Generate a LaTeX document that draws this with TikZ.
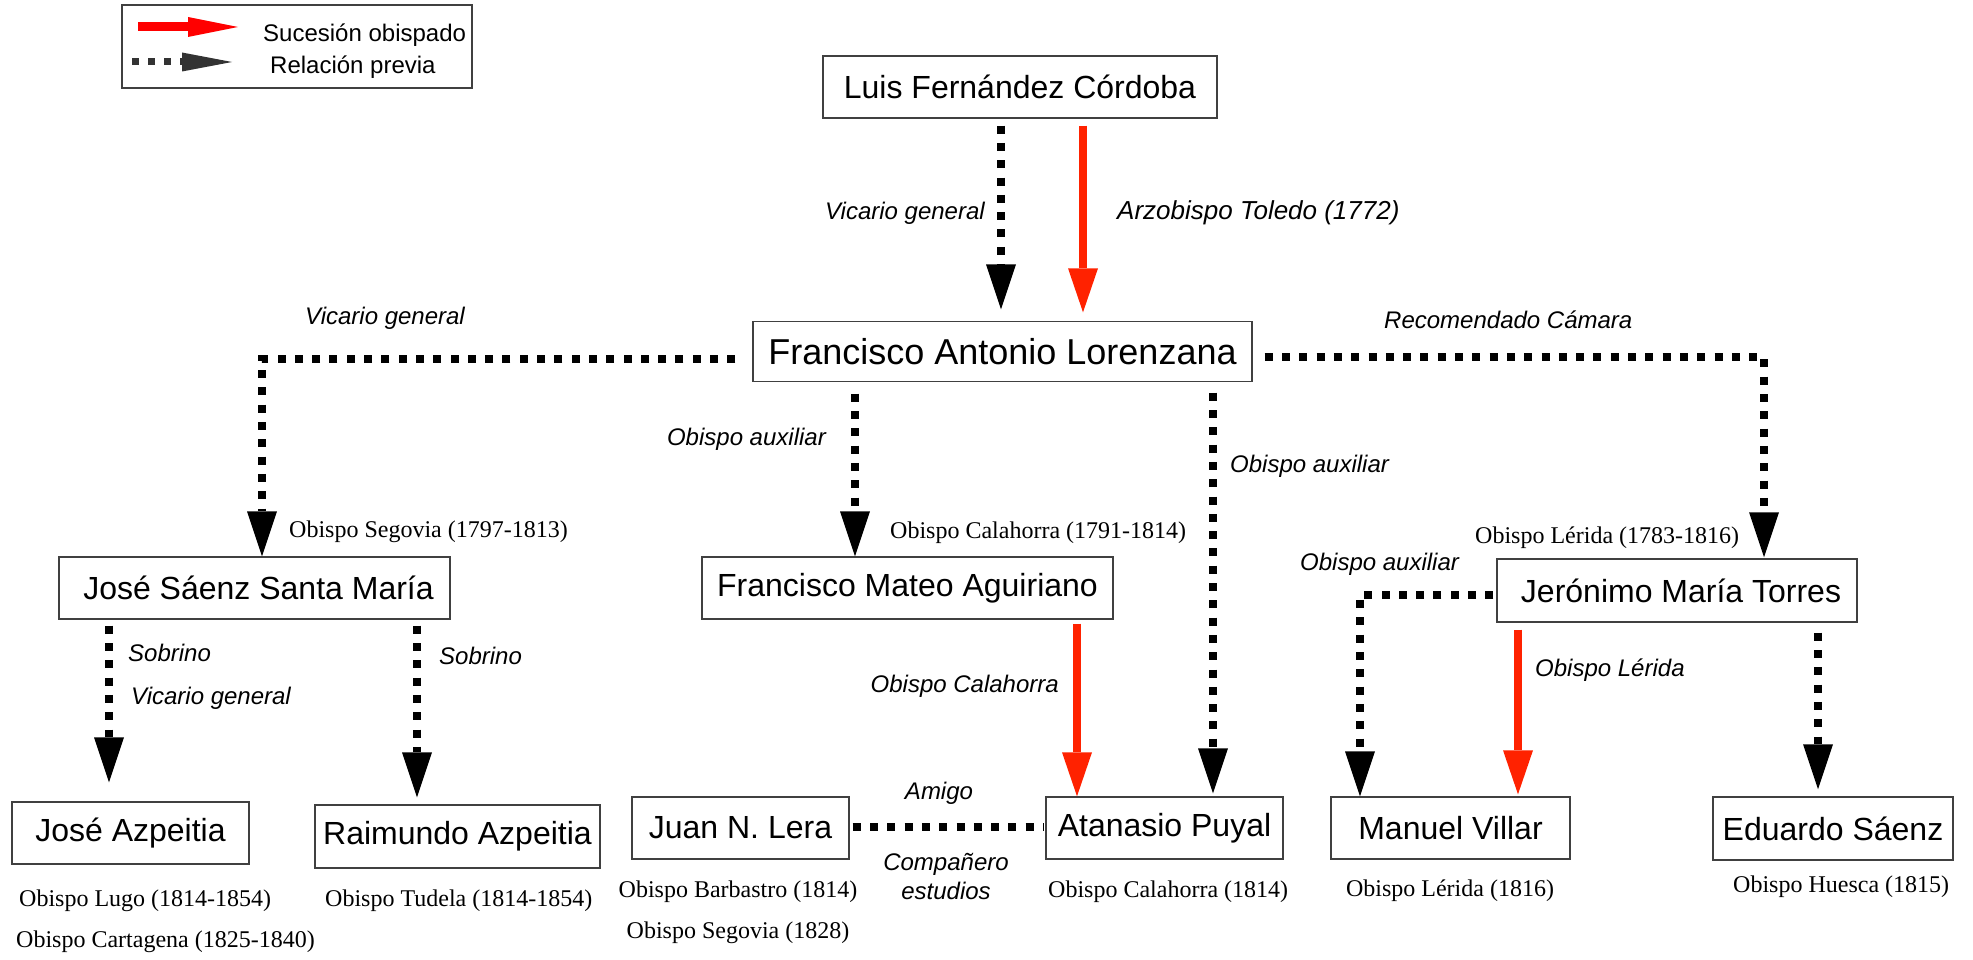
\documentclass[tikz,border=0pt]{standalone}
\usepackage{fontspec}
\setmainfont{Liberation Sans}
\newfontfamily\timesfont{Liberation Serif}
\usetikzlibrary{arrows.meta,calc}
\definecolor{sred}{RGB}{255,34,0}
\definecolor{lgray}{RGB}{51,51,51}
\begin{document}
\begin{tikzpicture}[x=1pt,y=-1pt,
  box/.style={draw=black!75, line width=1.4pt, minimum height=62pt, inner sep=0pt, font=\fontsize{32}{36}\selectfont},
  prevline/.style={line width=7.5pt, dash pattern=on 8pt off 9.3pt},
  prev/.style={prevline, -{Triangle[length=45pt,width=30pt,line width=0pt]}},
  succ/.style={draw=sred, line width=7.7pt, -{Triangle[length=44pt,width=30pt,line width=0pt]}},
  lab/.style={font=\fontsize{24}{28}\selectfont\itshape, inner sep=0pt},
  sub/.style={font=\timesfont\fontsize{24}{28}\selectfont, inner sep=0pt},
  leg/.style={font=\fontsize{24}{28}\selectfont, inner sep=0pt}]
\fill[white] (0,0) rectangle (1973,960);
\useasboundingbox (0,0) rectangle (1973,960);

% legend
\node[draw=black!75, line width=1.2pt, minimum width=350pt, minimum height=83pt, inner sep=0pt] (legend) at (297,46.5) {};
\coordinate (lr1) at (138,27);
\coordinate (lr2) at (238,27);
\coordinate (lb1) at (132,62);
\coordinate (lb2) at (232,62);
\draw[red, line width=9pt, -{Triangle[length=50pt,width=20pt,line width=0pt]}] (lr1) -- (lr2);
\draw[lgray, line width=7pt, dash pattern=on 7pt off 9pt, -{Triangle[length=50pt,width=19pt,line width=0pt]}] (lb1) -- (lb2);
\node[leg, anchor=west] (l1) at (263,35) {Sucesión obispado};
\node[leg, anchor=west] (l2) at (270,67) {Relación previa};

% boxes
\node[box, minimum width=394pt] (luis) at (1020,87) {Luis Fernández Córdoba};
\node[box, minimum width=499pt, minimum height=60pt, font=\fontsize{36}{40}\selectfont] (lor) at (1002.5,351.5) {Francisco Antonio Lorenzana};
\node[box, minimum width=391pt] (saenz) at (254.5,588) {\hspace{8pt}José Sáenz Santa María};
\node[box, minimum width=411pt] (agui) at (907.5,588) {Francisco Mateo Aguiriano};
\node[box, minimum width=360pt, minimum height=63pt] (torres) at (1677,590.5) {\hspace{8pt}Jerónimo María Torres};
\node[box, minimum width=237pt] (jose) at (130.5,833) {José Azpeitia};
\node[box, minimum width=285pt, minimum height=63pt] (raim) at (457.5,836.5) {Raimundo Azpeitia};
\node[box, minimum width=217pt] (lera) at (740.5,828) {Juan N. Lera};
\node[box, minimum width=237pt] (puyal) at (1164.5,828) {Atanasio Puyal};
\node[box, minimum width=239pt] (villar) at (1450.5,828) {Manuel Villar};
\node[box, minimum width=240pt, minimum height=63pt] (edu) at (1833,828.5) {Eduardo Sáenz\hspace{10pt}};

% connectors
\draw[prev] ($(luis.south)+(-19,7)$) -- ($(lor.north)+(-1.5,-11.5)$);
\draw[succ] ($(luis.south)+(63,7)$) -- ($(lor.north)+(80.5,-8.5)$);
\draw[prev] ($(lor.west)+(-17,7.5)$) -| ($(saenz.north)+(7.5,0)$);
\draw[prev] ($(lor.south)+(-147.5,11.5)$) -- ($(agui.north)+(-52.5,0)$);
\draw[prev] ($(lor.south)+(210.5,10.5)$) -- ($(puyal.north)+(48.5,-3)$);
\draw[prev] ($(lor.east)+(12,5.5)$) -| ($(torres.north)+(87,-1)$);
\draw[succ] ($(agui.south)+(169.5,4)$) -- ($(puyal.north)+(-87.5,0)$);
\draw[prev] ($(saenz.south)+(-145.5,6)$) -- ($(jose.north)+(-21.5,-19)$);
\draw[prev] ($(saenz.south)+(162.5,6)$) -- ($(raim.north)+(-40.5,-7)$);
\draw[prevline] ($(lera.east)+(3,-1)$) -- ($(puyal.west)+(-2,-1)$);
\draw[prev] ($(torres.west)+(-3,4.5)$) -| ($(villar.north)+(-90.5,0)$);
\draw[succ] ($(torres.south)+(-159,7)$) -- ($(villar.north)+(67.5,-2)$);
\draw[prev] ($(torres.south)+(141,10)$) -- ($(edu.north)+(-15,-7)$);

% connector labels
\node[lab, anchor=east] (t1) at (985,213) {Vicario general};
\node[lab, anchor=west, font=\fontsize{26}{30}\selectfont\itshape] (t2) at (1117,213) {Arzobispo Toledo (1772)};
\node[lab, anchor=west] (t3) at (305,318) {Vicario general};
\node[lab, anchor=west] (t4) at (1384,320) {Recomendado Cámara};
\node[lab, anchor=east] (t5) at (826,439) {Obispo auxiliar};
\node[lab, anchor=west] (t6) at (1230,466) {Obispo auxiliar};
\node[lab, anchor=west] (t7) at (1300,564) {Obispo auxiliar};
\node[lab, anchor=east] (t8) at (1059,686) {Obispo Calahorra};
\node[lab, anchor=west] (t9) at (1535,670) {Obispo Lérida};
\node[lab, anchor=west] (t10) at (128,653) {Sobrino};
\node[lab, anchor=west] (t11) at (131,698) {Vicario general};
\node[lab, anchor=west] (t12) at (439,656) {Sobrino};
\node[lab] (t13) at (939,793) {Amigo};
\node[lab] (t14) at (946,864) {Compañero};
\node[lab] (t15) at (946,891) {estudios};

% subtitles
\node[sub, anchor=west] (s1) at (289,532) {Obispo Segovia (1797-1813)};
\node[sub, anchor=west] (s2) at (890,533) {Obispo Calahorra (1791-1814)};
\node[sub, anchor=west] (s3) at (1475,538) {Obispo Lérida (1783-1816)};
\node[sub, anchor=west] (s4) at (19,901) {Obispo Lugo (1814-1854)};
\node[sub, anchor=west] (s5) at (16,942) {Obispo Cartagena (1825-1840)};
\node[sub, anchor=west] (s6) at (325,901) {Obispo Tudela (1814-1854)};
\node[sub] (s7) at (738,892) {Obispo Barbastro (1814)};
\node[sub] (s8) at (738,933) {Obispo Segovia (1828)};
\node[sub, anchor=west] (s9) at (1048,892) {Obispo Calahorra (1814)};
\node[sub] (s10) at (1450,891) {Obispo Lérida (1816)};
\node[sub, anchor=west] (s11) at (1733,887) {Obispo Huesca (1815)};
\end{tikzpicture}
\end{document}
